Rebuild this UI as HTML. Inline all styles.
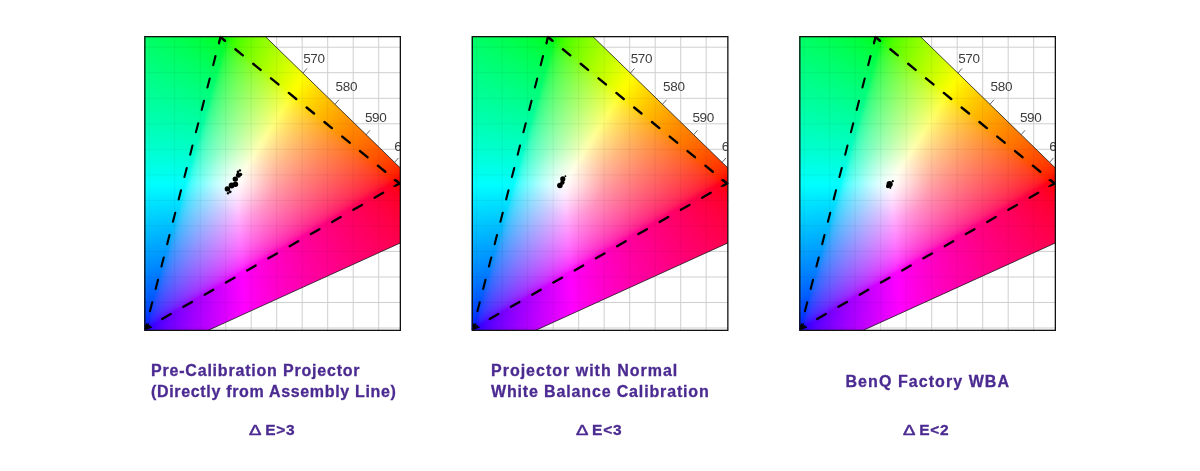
<!DOCTYPE html>
<html><head><meta charset="utf-8"><title>White balance calibration</title>
<style>
html,body{margin:0;padding:0;background:#fff}
body{width:1200px;height:471px;position:relative;overflow:hidden;font-family:"Liberation Sans",sans-serif}
.field{position:absolute;top:28px;width:273px;height:311px;clip-path:polygon(8.0px 8.0px,128.8px 8.0px,129.8px 9.0px,264.4px 140.0px,264.4px 214.9px,72.0px 302.4px,8.0px 302.4px);filter:blur(1.1px);
background:radial-gradient(circle at 103.5px 152.5px,rgba(255,255,255,.5) 0,rgba(255,255,255,.28) 12px,rgba(255,255,255,.1) 24px,rgba(255,255,255,0) 36px),
conic-gradient(from 0deg at 10.0px 300.0px,#00ffff 0deg,#00ffff 15.5deg,#1cffff 16deg,#2effff 16.5deg,#3cffff 17deg,#46ffff 17.5deg,#50ffff 18deg,#59ffff 18.5deg,#61ffff 19deg,#69ffff 19.5deg,#70ffff 20deg,#77ffff 20.5deg,#7effff 21deg,#84ffff 21.5deg,#8affff 22deg,#91ffff 22.5deg,#97ffff 23deg,#9dffff 23.5deg,#a3ffff 24deg,#a8ffff 24.5deg,#aeffff 25deg,#b4ffff 25.5deg,#baffff 26deg,#bfffff 26.5deg,#c5ffff 27deg,#cbffff 27.5deg,#d0ffff 28deg,#d6ffff 28.5deg,#dcffff 29deg,#e1ffff 29.5deg,#e7ffff 30deg,#edffff 30.5deg,#f3ffff 31deg,#f8ffff 31.5deg,#feffff 32deg,#fffaff 32.5deg,#fff4ff 33deg,#ffefff 33.5deg,#ffe9ff 34deg,#ffe4ff 34.5deg,#ffdfff 35deg,#ffdaff 35.5deg,#ffd6ff 36deg,#ffd1ff 36.5deg,#ffcdff 37deg,#ffc8ff 37.5deg,#ffc4ff 38deg,#ffc0ff 38.5deg,#ffbbff 39deg,#ffb7ff 39.5deg,#ffb3ff 40deg,#ffb0ff 40.5deg,#ffacff 41deg,#ffa8ff 41.5deg,#ffa4ff 42deg,#ffa0ff 42.5deg,#ff9dff 43deg,#ff99ff 43.5deg,#ff95ff 44deg,#ff92ff 44.5deg,#ff8eff 45deg,#ff8bff 45.5deg,#ff87ff 46deg,#ff84ff 46.5deg,#ff80ff 47deg,#ff7dff 47.5deg,#ff7aff 48deg,#ff76ff 48.5deg,#ff73ff 49deg,#ff6fff 49.5deg,#ff6cff 50deg,#ff68ff 50.5deg,#ff65ff 51deg,#ff61ff 51.5deg,#ff5dff 52deg,#ff5aff 52.5deg,#ff56ff 53deg,#ff52ff 53.5deg,#ff4eff 54deg,#ff4aff 54.5deg,#ff46ff 55deg,#ff41ff 55.5deg,#ff3dff 56deg,#ff38ff 56.5deg,#ff33ff 57deg,#ff2dff 57.5deg,#ff26ff 58deg,#ff1fff 58.5deg,#ff15ff 59deg,#ff00ff 59.5deg,#ff00ff 195.5deg,#ffffff 196deg,#ffffff 239deg,#00ffff 239.5deg,#00ffff 360deg),
conic-gradient(from 0deg at 91.0px 12.0px,#ffffff 0deg,#ffffff 15.5deg,#ffff00 16deg,#ffff00 130deg,#ffff0b 130.5deg,#ffff15 131deg,#ffff1b 131.5deg,#ffff20 132deg,#ffff24 132.5deg,#ffff28 133deg,#ffff2c 133.5deg,#ffff2f 134deg,#ffff32 134.5deg,#ffff35 135deg,#ffff38 135.5deg,#ffff3b 136deg,#ffff3e 136.5deg,#ffff40 137deg,#ffff43 137.5deg,#ffff45 138deg,#ffff48 138.5deg,#ffff4a 139deg,#ffff4c 139.5deg,#ffff4f 140deg,#ffff51 140.5deg,#ffff53 141deg,#ffff55 141.5deg,#ffff57 142deg,#ffff59 142.5deg,#ffff5b 143deg,#ffff5e 143.5deg,#ffff60 144deg,#ffff62 144.5deg,#ffff64 145deg,#ffff66 145.5deg,#ffff68 146deg,#ffff6a 146.5deg,#ffff6c 147deg,#ffff6e 147.5deg,#ffff6f 148deg,#ffff71 148.5deg,#ffff73 149deg,#ffff75 149.5deg,#ffff77 150deg,#ffff79 150.5deg,#ffff7b 151deg,#ffff7d 151.5deg,#ffff7f 152deg,#ffff81 152.5deg,#ffff83 153deg,#ffff85 153.5deg,#ffff87 154deg,#ffff89 154.5deg,#ffff8b 155deg,#ffff8d 155.5deg,#ffff8f 156deg,#ffff91 156.5deg,#ffff93 157deg,#ffff95 157.5deg,#ffff98 158deg,#ffff9a 158.5deg,#ffff9c 159deg,#ffff9e 159.5deg,#ffffa0 160deg,#ffffa2 160.5deg,#ffffa5 161deg,#ffffa7 161.5deg,#ffffa9 162deg,#ffffab 162.5deg,#ffffae 163deg,#ffffb0 163.5deg,#ffffb3 164deg,#ffffb5 164.5deg,#ffffb8 165deg,#ffffba 165.5deg,#ffffbd 166deg,#ffffbf 166.5deg,#ffffc2 167deg,#ffffc5 167.5deg,#ffffc7 168deg,#ffffca 168.5deg,#ffffcd 169deg,#ffffd0 169.5deg,#ffffd3 170deg,#ffffd6 170.5deg,#ffffd9 171deg,#ffffdc 171.5deg,#ffffe0 172deg,#ffffe3 172.5deg,#ffffe6 173deg,#ffffea 173.5deg,#ffffee 174deg,#fffff1 174.5deg,#fffff5 175deg,#fffff9 175.5deg,#fffffd 176deg,#fdffff 176.5deg,#f8ffff 177deg,#f4ffff 177.5deg,#f0ffff 178deg,#ecffff 178.5deg,#e7ffff 179deg,#e3ffff 179.5deg,#dfffff 180deg,#dbffff 180.5deg,#d6ffff 181deg,#d2ffff 181.5deg,#ceffff 182deg,#c9ffff 182.5deg,#c5ffff 183deg,#c0ffff 183.5deg,#bcffff 184deg,#b7ffff 184.5deg,#b3ffff 185deg,#aeffff 185.5deg,#a9ffff 186deg,#a4ffff 186.5deg,#9fffff 187deg,#9affff 187.5deg,#95ffff 188deg,#90ffff 188.5deg,#8affff 189deg,#85ffff 189.5deg,#7fffff 190deg,#79ffff 190.5deg,#73ffff 191deg,#6cffff 191.5deg,#65ffff 192deg,#5effff 192.5deg,#56ffff 193deg,#4effff 193.5deg,#44ffff 194deg,#39ffff 194.5deg,#2cffff 195deg,#18ffff 195.5deg,#00ffff 196deg,#00ffff 310deg,#ffffff 310.5deg,#ffffff 360deg),
conic-gradient(from 0deg at 258.0px 153.5px,#ffff00 0deg,#ffff00 59deg,#ffffff 59.5deg,#ffffff 130deg,#ff00ff 130.5deg,#ff00ff 239deg,#ff0bff 239.5deg,#ff1eff 240deg,#ff29ff 240.5deg,#ff32ff 241deg,#ff3aff 241.5deg,#ff40ff 242deg,#ff46ff 242.5deg,#ff4cff 243deg,#ff51ff 243.5deg,#ff56ff 244deg,#ff5bff 244.5deg,#ff60ff 245deg,#ff64ff 245.5deg,#ff68ff 246deg,#ff6cff 246.5deg,#ff70ff 247deg,#ff74ff 247.5deg,#ff78ff 248deg,#ff7cff 248.5deg,#ff7fff 249deg,#ff83ff 249.5deg,#ff87ff 250deg,#ff8aff 250.5deg,#ff8dff 251deg,#ff91ff 251.5deg,#ff94ff 252deg,#ff97ff 252.5deg,#ff9bff 253deg,#ff9eff 253.5deg,#ffa1ff 254deg,#ffa4ff 254.5deg,#ffa7ff 255deg,#ffaaff 255.5deg,#ffaeff 256deg,#ffb1ff 256.5deg,#ffb4ff 257deg,#ffb7ff 257.5deg,#ffbaff 258deg,#ffbdff 258.5deg,#ffc0ff 259deg,#ffc3ff 259.5deg,#ffc6ff 260deg,#ffc9ff 260.5deg,#ffccff 261deg,#ffcfff 261.5deg,#ffd2ff 262deg,#ffd5ff 262.5deg,#ffd8ff 263deg,#ffdbff 263.5deg,#ffdeff 264deg,#ffe1ff 264.5deg,#ffe4ff 265deg,#ffe7ff 265.5deg,#ffeaff 266deg,#ffedff 266.5deg,#fff1ff 267deg,#fff4ff 267.5deg,#fff7ff 268deg,#fffaff 268.5deg,#fffdff 269deg,#fffffe 269.5deg,#fffffa 270deg,#fffff7 270.5deg,#fffff4 271deg,#fffff1 271.5deg,#ffffee 272deg,#ffffeb 272.5deg,#ffffe8 273deg,#ffffe6 273.5deg,#ffffe3 274deg,#ffffe0 274.5deg,#ffffdd 275deg,#ffffdb 275.5deg,#ffffd8 276deg,#ffffd5 276.5deg,#ffffd3 277deg,#ffffd0 277.5deg,#ffffce 278deg,#ffffcb 278.5deg,#ffffc8 279deg,#ffffc6 279.5deg,#ffffc4 280deg,#ffffc1 280.5deg,#ffffbf 281deg,#ffffbc 281.5deg,#ffffba 282deg,#ffffb7 282.5deg,#ffffb5 283deg,#ffffb3 283.5deg,#ffffb0 284deg,#ffffae 284.5deg,#ffffac 285deg,#ffffa9 285.5deg,#ffffa7 286deg,#ffffa5 286.5deg,#ffffa2 287deg,#ffffa0 287.5deg,#ffff9e 288deg,#ffff9c 288.5deg,#ffff99 289deg,#ffff97 289.5deg,#ffff95 290deg,#ffff92 290.5deg,#ffff90 291deg,#ffff8e 291.5deg,#ffff8c 292deg,#ffff89 292.5deg,#ffff87 293deg,#ffff85 293.5deg,#ffff82 294deg,#ffff80 294.5deg,#ffff7e 295deg,#ffff7b 295.5deg,#ffff79 296deg,#ffff76 296.5deg,#ffff74 297deg,#ffff71 297.5deg,#ffff6f 298deg,#ffff6c 298.5deg,#ffff6a 299deg,#ffff67 299.5deg,#ffff65 300deg,#ffff62 300.5deg,#ffff5f 301deg,#ffff5c 301.5deg,#ffff59 302deg,#ffff57 302.5deg,#ffff54 303deg,#ffff50 303.5deg,#ffff4d 304deg,#ffff4a 304.5deg,#ffff47 305deg,#ffff43 305.5deg,#ffff3f 306deg,#ffff3b 306.5deg,#ffff37 307deg,#ffff33 307.5deg,#ffff2e 308deg,#ffff28 308.5deg,#ffff22 309deg,#ffff1b 309.5deg,#ffff10 310deg,#ffff00 310.5deg,#ffff00 360deg);background-blend-mode:normal,darken,darken,normal;}
svg.ov{position:absolute;left:0;top:0}
.wl{font-family:"Liberation Sans",sans-serif;font-size:13.5px;fill:#3c3c3c;letter-spacing:-.35px}
.cap{position:absolute;white-space:nowrap;font-weight:bold;font-size:16px;line-height:21.8px;color:#4b2a91;-webkit-text-stroke:.3px #4b2a91}
.de{position:absolute;white-space:nowrap;font-weight:bold;font-size:15.5px;line-height:21.6px;color:#4b2a91;letter-spacing:.7px;-webkit-text-stroke:.3px #4b2a91}
.dl{display:inline-block;width:16px;transform:scaleX(1.2);transform-origin:0 50%;letter-spacing:0;font-weight:normal;-webkit-text-stroke:.55px #4b2a91}
</style></head><body>
<svg class="ov" width="1200" height="471" viewBox="0 0 1200 471">
<g transform="translate(0,0)"><path d="M149.2 36V331M174.7 36V331M200.2 36V331M225.7 36V331M251.2 36V331M276.7 36V331M302.2 36V331M327.7 36V331M353.2 36V331M378.7 36V331M144 47.2H401M144 72.7H401M144 98.3H401M144 123.8H401M144 149.3H401M144 174.9H401M144 200.4H401M144 225.9H401M144 251.4H401M144 277.0H401M144 302.5H401M144 328.0H401" stroke="#cfcfcf" stroke-width="1" fill="none"/></g>
<g transform="translate(327.5,0)"><path d="M149.2 36V331M174.7 36V331M200.2 36V331M225.7 36V331M251.2 36V331M276.7 36V331M302.2 36V331M327.7 36V331M353.2 36V331M378.7 36V331M144 47.2H401M144 72.7H401M144 98.3H401M144 123.8H401M144 149.3H401M144 174.9H401M144 200.4H401M144 225.9H401M144 251.4H401M144 277.0H401M144 302.5H401M144 328.0H401" stroke="#cfcfcf" stroke-width="1" fill="none"/></g>
<g transform="translate(655,0)"><path d="M149.2 36V331M174.7 36V331M200.2 36V331M225.7 36V331M251.2 36V331M276.7 36V331M302.2 36V331M327.7 36V331M353.2 36V331M378.7 36V331M144 47.2H401M144 72.7H401M144 98.3H401M144 123.8H401M144 149.3H401M144 174.9H401M144 200.4H401M144 225.9H401M144 251.4H401M144 277.0H401M144 302.5H401M144 328.0H401" stroke="#cfcfcf" stroke-width="1" fill="none"/></g>
</svg>
<div class="field" style="left:136px"></div>
<div class="field" style="left:463.5px"></div>
<div class="field" style="left:791px"></div>
<svg class="ov" width="1200" height="471" viewBox="0 0 1200 471">
<defs><clipPath id="fieldclip"><polygon points="144.0,36.0 264.8,36.0 265.8,37.0 400.4,168.0 400.4,242.9 208.0,330.4 144.0,330.4"/></clipPath><clipPath id="pclip"><rect x="144" y="36" width="256" height="295"/></clipPath></defs>
<g transform="translate(0,0)">
<g clip-path="url(#fieldclip)"><path d="M149.2 36V331M174.7 36V331M200.2 36V331M225.7 36V331M251.2 36V331M276.7 36V331M302.2 36V331M327.7 36V331M353.2 36V331M378.7 36V331M144 47.2H401M144 72.7H401M144 98.3H401M144 123.8H401M144 149.3H401M144 174.9H401M144 200.4H401M144 225.9H401M144 251.4H401M144 277.0H401M144 302.5H401M144 328.0H401" stroke="rgba(0,0,0,0.055)" stroke-width="1" fill="none"/></g>
<path d="M265.3 36.5L400.4 168M400.4 242.9L208 330.4" stroke="#1a1a1a" stroke-width="0.8" fill="none"/>
<path d="M303.0 73.0l4 -4.6" stroke="#555" stroke-width="0.9" fill="none"/>
<path d="M335.0 104.3l4 -4.6" stroke="#555" stroke-width="0.9" fill="none"/>
<path d="M366.0 134.9l4 -4.6" stroke="#555" stroke-width="0.9" fill="none"/>
<path d="M394.5 162.5l4 -4.6" stroke="#555" stroke-width="0.9" fill="none"/>
<text x="303.2" y="63.0" class="wl" clip-path="url(#pclip)">570</text>
<text x="335.6" y="91.2" class="wl" clip-path="url(#pclip)">580</text>
<text x="364.9" y="122.1" class="wl" clip-path="url(#pclip)">590</text>
<text x="394.2" y="150.7" class="wl" clip-path="url(#pclip)">6</text>
<g stroke="#000" fill="none" stroke-linecap="round">
<path d="M145.5 328.5L399.6 183.4" stroke-width="2.3" stroke-dasharray="9.86 14.6" stroke-dashoffset="-19.22"/>
<path d="M220.4 37L145.5 328.5" stroke-width="2.1" stroke-dasharray="9.32 13.78" stroke-dashoffset="-19.74"/>
<path d="M220.4 37L399.6 183.4" stroke-width="2.4" stroke-dasharray="9.58 13.42" stroke-dashoffset="-19.36"/>
</g>
<g stroke="#000" fill="none" stroke-linejoin="round" stroke-linecap="round" clip-path="url(#pclip)">
<path d="M394.3 180L399.8 183.4L393.9 186.3" stroke-width="1.5"/>
<path d="M148.3 323.8L145.9 329.2L151.6 327.2" stroke-width="1.3"/>
<path d="M225 41L220.6 36.6L219.1 43.6" stroke-width="1.8"/>
</g>
<circle cx="227.4" cy="188.9" r="2.7"/>
<circle cx="231.6" cy="185.5" r="2.9"/>
<circle cx="235.5" cy="184.2" r="2.7"/>
<circle cx="235.3" cy="179.1" r="2.7"/>
<circle cx="238.4" cy="175.3" r="2.5"/>
<circle cx="240.6" cy="174.4" r="1.7"/>
<circle cx="238.0" cy="171.9" r="1.4"/>
<circle cx="239.9" cy="170.4" r="1.2"/>
<circle cx="228.0" cy="193.3" r="1.2"/>
<circle cx="230.2" cy="191.8" r="1.4"/>
<rect x="144.85" y="36.65" width="255.5" height="293.7" fill="none" stroke="#111" stroke-width="1.3"/>
</g>
<g transform="translate(327.5,0)">
<g clip-path="url(#fieldclip)"><path d="M149.2 36V331M174.7 36V331M200.2 36V331M225.7 36V331M251.2 36V331M276.7 36V331M302.2 36V331M327.7 36V331M353.2 36V331M378.7 36V331M144 47.2H401M144 72.7H401M144 98.3H401M144 123.8H401M144 149.3H401M144 174.9H401M144 200.4H401M144 225.9H401M144 251.4H401M144 277.0H401M144 302.5H401M144 328.0H401" stroke="rgba(0,0,0,0.055)" stroke-width="1" fill="none"/></g>
<path d="M265.3 36.5L400.4 168M400.4 242.9L208 330.4" stroke="#1a1a1a" stroke-width="0.8" fill="none"/>
<path d="M303.0 73.0l4 -4.6" stroke="#555" stroke-width="0.9" fill="none"/>
<path d="M335.0 104.3l4 -4.6" stroke="#555" stroke-width="0.9" fill="none"/>
<path d="M366.0 134.9l4 -4.6" stroke="#555" stroke-width="0.9" fill="none"/>
<path d="M394.5 162.5l4 -4.6" stroke="#555" stroke-width="0.9" fill="none"/>
<text x="303.2" y="63.0" class="wl" clip-path="url(#pclip)">570</text>
<text x="335.6" y="91.2" class="wl" clip-path="url(#pclip)">580</text>
<text x="364.9" y="122.1" class="wl" clip-path="url(#pclip)">590</text>
<text x="394.2" y="150.7" class="wl" clip-path="url(#pclip)">6</text>
<g stroke="#000" fill="none" stroke-linecap="round">
<path d="M145.5 328.5L399.6 183.4" stroke-width="2.3" stroke-dasharray="9.86 14.6" stroke-dashoffset="-19.22"/>
<path d="M220.4 37L145.5 328.5" stroke-width="2.1" stroke-dasharray="9.32 13.78" stroke-dashoffset="-19.74"/>
<path d="M220.4 37L399.6 183.4" stroke-width="2.4" stroke-dasharray="9.58 13.42" stroke-dashoffset="-19.36"/>
</g>
<g stroke="#000" fill="none" stroke-linejoin="round" stroke-linecap="round" clip-path="url(#pclip)">
<path d="M394.3 180L399.8 183.4L393.9 186.3" stroke-width="1.5"/>
<path d="M148.3 323.8L145.9 329.2L151.6 327.2" stroke-width="1.3"/>
<path d="M225 41L220.6 36.6L219.1 43.6" stroke-width="1.8"/>
</g>
<circle cx="232.4" cy="185.5" r="2.8"/>
<circle cx="234.9" cy="182.6" r="2.2"/>
<circle cx="235.3" cy="178.9" r="2.6"/>
<circle cx="237.9" cy="176.2" r="0.9"/>
<rect x="144.85" y="36.65" width="255.5" height="293.7" fill="none" stroke="#111" stroke-width="1.3"/>
</g>
<g transform="translate(655,0)">
<g clip-path="url(#fieldclip)"><path d="M149.2 36V331M174.7 36V331M200.2 36V331M225.7 36V331M251.2 36V331M276.7 36V331M302.2 36V331M327.7 36V331M353.2 36V331M378.7 36V331M144 47.2H401M144 72.7H401M144 98.3H401M144 123.8H401M144 149.3H401M144 174.9H401M144 200.4H401M144 225.9H401M144 251.4H401M144 277.0H401M144 302.5H401M144 328.0H401" stroke="rgba(0,0,0,0.055)" stroke-width="1" fill="none"/></g>
<path d="M265.3 36.5L400.4 168M400.4 242.9L208 330.4" stroke="#1a1a1a" stroke-width="0.8" fill="none"/>
<path d="M303.0 73.0l4 -4.6" stroke="#555" stroke-width="0.9" fill="none"/>
<path d="M335.0 104.3l4 -4.6" stroke="#555" stroke-width="0.9" fill="none"/>
<path d="M366.0 134.9l4 -4.6" stroke="#555" stroke-width="0.9" fill="none"/>
<path d="M394.5 162.5l4 -4.6" stroke="#555" stroke-width="0.9" fill="none"/>
<text x="303.2" y="63.0" class="wl" clip-path="url(#pclip)">570</text>
<text x="335.6" y="91.2" class="wl" clip-path="url(#pclip)">580</text>
<text x="364.9" y="122.1" class="wl" clip-path="url(#pclip)">590</text>
<text x="394.2" y="150.7" class="wl" clip-path="url(#pclip)">6</text>
<g stroke="#000" fill="none" stroke-linecap="round">
<path d="M145.5 328.5L399.6 183.4" stroke-width="2.3" stroke-dasharray="9.86 14.6" stroke-dashoffset="-19.22"/>
<path d="M220.4 37L145.5 328.5" stroke-width="2.1" stroke-dasharray="9.32 13.78" stroke-dashoffset="-19.74"/>
<path d="M220.4 37L399.6 183.4" stroke-width="2.4" stroke-dasharray="9.58 13.42" stroke-dashoffset="-19.36"/>
</g>
<g stroke="#000" fill="none" stroke-linejoin="round" stroke-linecap="round" clip-path="url(#pclip)">
<path d="M394.3 180L399.8 183.4L393.9 186.3" stroke-width="1.5"/>
<path d="M148.3 323.8L145.9 329.2L151.6 327.2" stroke-width="1.3"/>
<path d="M225 41L220.6 36.6L219.1 43.6" stroke-width="1.8"/>
</g>
<circle cx="234.6" cy="184.2" r="3.1"/>
<circle cx="237.8" cy="181.2" r="1.1"/>
<circle cx="232.9" cy="186.3" r="1.9"/>
<circle cx="235.3" cy="187.8" r="1.1"/>
<rect x="144.85" y="36.65" width="255.5" height="293.7" fill="none" stroke="#111" stroke-width="1.3"/>
</g>
</svg>

<div class="cap" style="left:151px;top:359.5px"><span style="letter-spacing:.8px">Pre-Calibration Projector</span><br><span style="letter-spacing:.67px">(Directly from Assembly Line)</span></div>
<div class="cap" style="left:491px;top:359.5px"><span style="letter-spacing:1px">Projector with Normal</span><br><span style="letter-spacing:.85px">White Balance Calibration</span></div>
<div class="cap" style="left:845.5px;top:370.8px"><span style="letter-spacing:1.06px">BenQ Factory WBA</span></div>
<div class="de" style="left:249.3px;top:419px"><span class="dl">Δ</span>E&gt;3</div>
<div class="de" style="left:576.1px;top:419px"><span class="dl">Δ</span>E&lt;3</div>
<div class="de" style="left:903.2px;top:419px"><span class="dl">Δ</span>E&lt;2</div>

</body></html>
